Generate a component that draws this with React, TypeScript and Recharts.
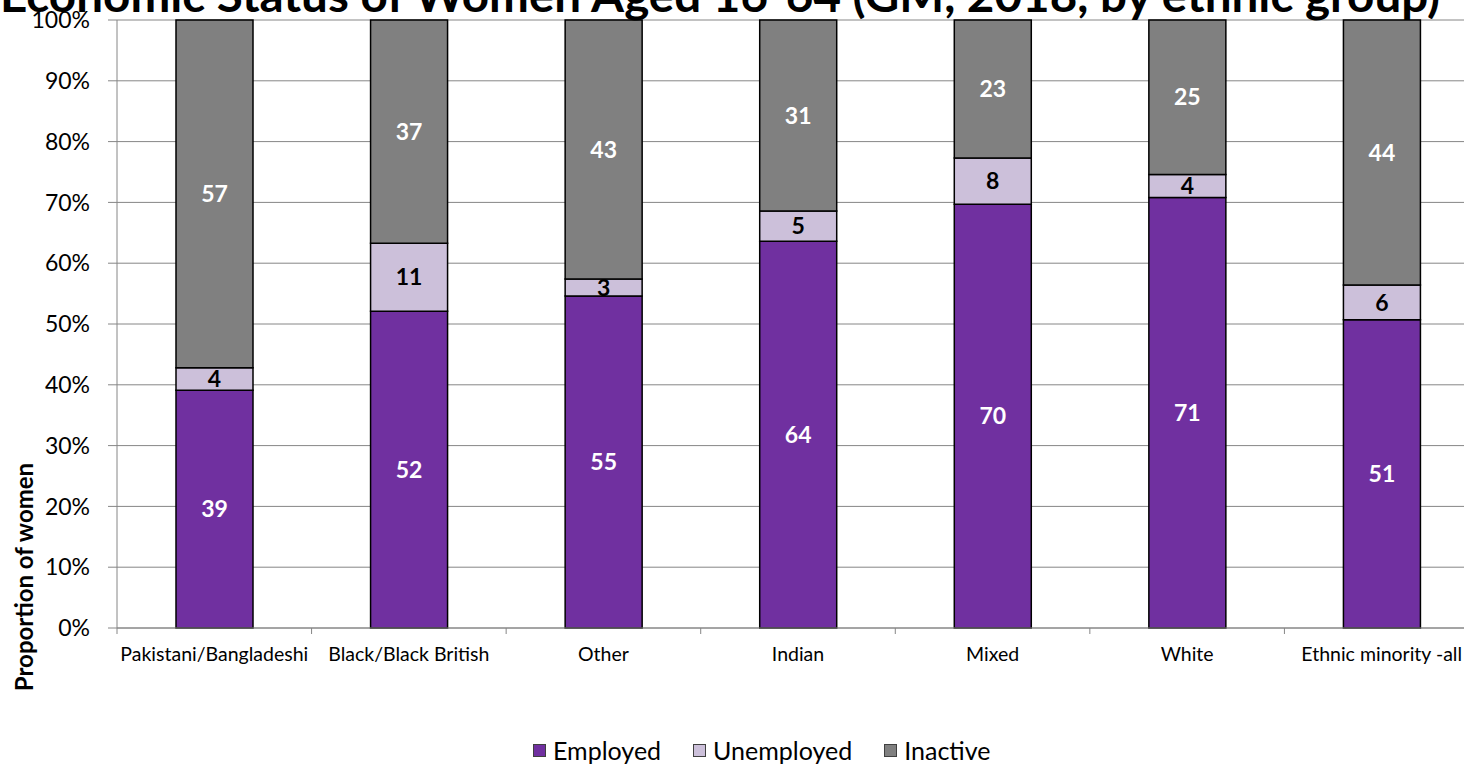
import { Bar, BarChart, CartesianGrid, LabelList, XAxis, YAxis } from 'recharts';

const groups = [
  'Pakistani/Bangladeshi',
  'Black/Black British',
  'Other',
  'Indian',
  'Mixed',
  'White',
  'Ethnic minority -all',
];
const employed = [39.1, 52.1, 54.6, 63.6, 69.7, 70.8, 50.7];
const unemployed = [3.7, 11.2, 2.8, 5.0, 7.6, 3.8, 5.7];
const inactive = [57.2, 36.7, 42.6, 31.4, 22.7, 25.4, 43.6];
const yTicks = [0, 10, 20, 30, 40, 50, 60, 70, 80, 90, 100];

const series = [
  { key: 'employed', name: 'Employed', fill: '#7030A0', text: '#fff' },
  { key: 'unemployed', name: 'Unemployed', fill: '#CCC0DA', text: '#000' },
  { key: 'inactive', name: 'Inactive', fill: '#808080', text: '#fff' },
];

const data = groups.map((group, i) => ({
  group,
  employed: employed[i],
  unemployed: unemployed[i],
  inactive: inactive[i],
}));

const FONT = 'Lato, "Open Sans", sans-serif';

const GroupTick = (props: any) => {
  const { x, y, payload, index, width } = props;
  const band = (width || 1362) / groups.length;
  return (
    <g>
      <line x1={x - band / 2} x2={x - band / 2} y1={y - 14} y2={y - 8} stroke="#868686" />
      {index === groups.length - 1 && (
        <line x1={x + band / 2} x2={x + band / 2} y1={y - 14} y2={y - 8} stroke="#868686" />
      )}
      <text x={x} y={y} dy={19} textAnchor="middle" fontSize={19.5} fill="#000" fontFamily={FONT}>
        {payload.value}
      </text>
    </g>
  );
};

export default function App() {
  return (
    <div
      style={{
        position: 'absolute',
        left: 0,
        top: 0,
        width: 1464,
        height: 768,
        overflow: 'hidden',
        background: '#fff',
        fontFamily: FONT,
      }}
    >
      <BarChart width={1480} height={768} data={data} margin={{ top: 20, right: 1, left: 0, bottom: 100 }}>
        <CartesianGrid vertical={false} stroke="#868686" />
        <XAxis
          dataKey="group"
          interval={0}
          height={40}
          axisLine={{ stroke: '#868686' }}
          tickLine={false}
          tickSize={6}
          tickMargin={8}
          tick={<GroupTick />}
        />
        <YAxis
          width={117}
          domain={[0, 100]}
          ticks={yTicks}
          tickFormatter={(v) => `${v}%`}
          axisLine={{ stroke: '#868686' }}
          tickLine={{ stroke: '#868686' }}
          tickSize={9}
          tickMargin={18}
          tick={{ fill: '#000', fontSize: 23, fontFamily: FONT }}
        />
        {series.map((s) => (
          <Bar
            key={s.key}
            dataKey={s.key}
            name={s.name}
            stackId="a"
            fill={s.fill}
            stroke="#000"
            strokeWidth={1.5}
            barSize={77}
            isAnimationActive={false}
          >
            <LabelList
              dataKey={s.key}
              position="center"
              formatter={(v: any) => Math.round(Number(v))}
              fill={s.text}
              fontSize={23}
              fontWeight="bold"
              fontFamily={FONT}
            />
          </Bar>
        ))}
      </BarChart>

      <svg
        width={1464}
        height={768}
        style={{ position: 'absolute', left: 0, top: 0, pointerEvents: 'none' }}
      >
        <text
          x={720}
          y={12}
          textAnchor="middle"
          fontSize={46}
          fontWeight="bold"
          fontFamily={FONT}
          fill="#000"
          textLength={1440}
          lengthAdjust="spacingAndGlyphs"
        >
          Economic Status of Women Aged 16-64 (GM, 2018, by ethnic group)
        </text>
        <text
          transform="translate(33,577) rotate(-90)"
          textAnchor="middle"
          fontSize={24}
          fontWeight="bold"
          fontFamily={FONT}
          fill="#000"
        >
          Proportion of women
        </text>
      </svg>

      <div
        style={{
          position: 'absolute',
          left: 533,
          top: 735,
          display: 'flex',
          alignItems: 'center',
          gap: 32,
          fontSize: 25,
          color: '#000',
        }}
      >
        {series.map((s) => (
          <div key={s.key} style={{ display: 'flex', alignItems: 'center' }}>
            <span
              style={{
                display: 'inline-block',
                width: 11,
                height: 11,
                background: s.fill,
                border: '1px solid #404040',
                marginRight: 7,
              }}
            />
            <span>{s.name}</span>
          </div>
        ))}
      </div>
    </div>
  );
}
